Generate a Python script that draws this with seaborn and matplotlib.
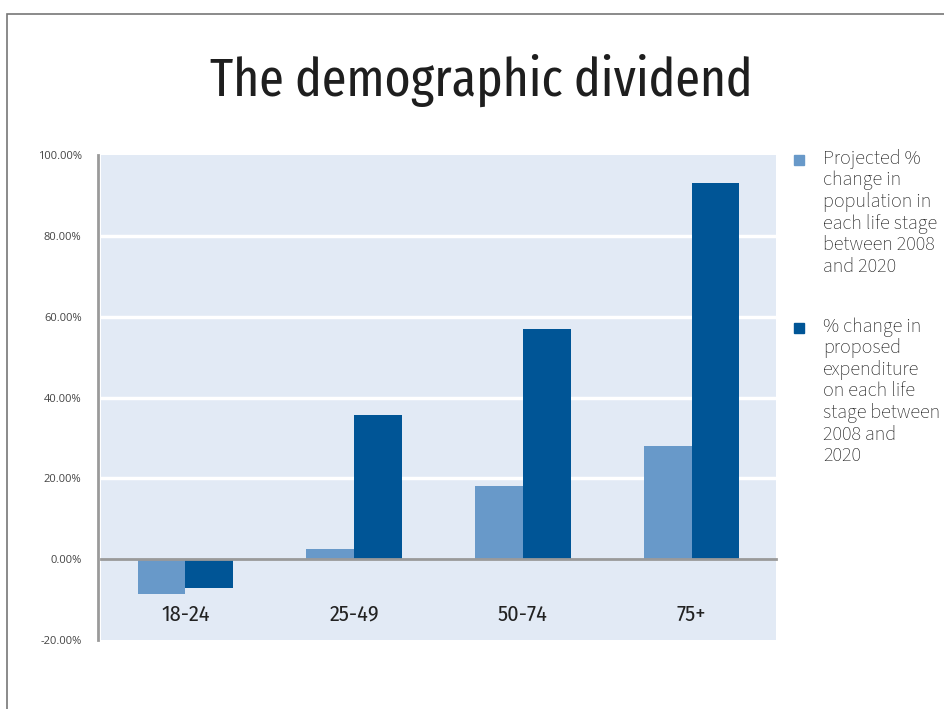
import matplotlib
matplotlib.use("Agg")
import matplotlib.pyplot as plt
import matplotlib.ticker as mticker
from matplotlib.patches import Rectangle
import seaborn as sns
import pandas as pd

# Life stages and the two projected changes (percent, 2008 -> 2020)
stages = ["18-24", "25-49", "50-74", "75+"]
population_change = [-8.5, 2.5, 18.1, 28.0]
expenditure_change = [-7.1, 35.6, 56.9, 93.1]
series_labels = [
    "Projected %\nchange in\npopulation in\neach life stage\nbetween 2008\nand 2020",
    "% change in\nproposed\nexpenditure\non each life\nstage between\n2008 and\n2020",
]
y_ticks = [-20, 0, 20, 40, 60, 80, 100]

light_blue = "#6899c9"
dark_blue = "#005596"
panel_bg = "#e2eaf5"
axis_grey = "#9a9a9a"

df = pd.DataFrame({
    "stage": stages * 2,
    "value": population_change + expenditure_change,
    "series": ["population"] * len(stages) + ["expenditure"] * len(stages),
})

sns.set_theme(style="white")
plt.rcParams["font.family"] = ["Open Sans", "DejaVu Sans"]
cond = ["Fira Sans Extra Condensed", "DejaVu Sans"]
semi = ["Fira Sans Condensed", "DejaVu Sans"]

W, H = 944, 709
fig = plt.figure(figsize=(W / 100, H / 100), dpi=100)
ax = fig.add_axes([101 / W, 1 - 640 / H, (776 - 101) / W, (640 - 155) / H])
ax.set_facecolor(panel_bg)

sns.barplot(data=df, x="stage", y="value", hue="series",
            palette=[light_blue, dark_blue], width=0.566, gap=0,
            saturation=1, linewidth=0, legend=False, ax=ax, zorder=3)

ax.set_xlim(-0.5, 3.5)
ax.set_ylim(-20, 100)
ax.set_xlabel("")
ax.set_ylabel("")

# white horizontal gridlines
ax.yaxis.set_major_locator(mticker.FixedLocator(y_ticks))
ax.yaxis.set_major_formatter(mticker.FuncFormatter(lambda v, p: f"{v:.2f}%"))
for v in y_ticks:
    if 0 < v < 100:
        ax.axhline(v, color="white", lw=2.5, zorder=1)

for s in ["top", "right"]:
    ax.spines[s].set_visible(False)
ax.spines["left"].set_color(axis_grey)
ax.spines["left"].set_linewidth(2)
ax.spines["left"].set_position(("outward", 2))
ax.spines["bottom"].set_position(("data", 0))
ax.spines["bottom"].set_color(axis_grey)
ax.spines["bottom"].set_linewidth(2)
ax.spines["bottom"].set_zorder(4)

ax.tick_params(axis="y", which="major", direction="out", length=7, width=2,
               color=axis_grey, labelsize=8, labelcolor="#444444", pad=5)

# category boundaries carry the ticks, centres carry the labels
ax.xaxis.set_major_locator(mticker.FixedLocator([-0.5, 0.5, 1.5, 2.5, 3.5]))
ax.xaxis.set_major_formatter(mticker.NullFormatter())
ax.xaxis.set_minor_locator(mticker.FixedLocator(range(len(stages))))
ax.xaxis.set_minor_formatter(mticker.FixedFormatter(stages))
ax.tick_params(axis="x", which="major", direction="out", length=9, width=2,
               color=axis_grey)
ax.tick_params(axis="x", which="minor", length=0, pad=32, labelsize=16,
               labelcolor="#222222")
for lab in ax.get_xticklabels(minor=True):
    lab.set_family(semi)
    lab.set_fontweight("normal")

fig.text(481 / W, 1 - 80 / H, "The demographic dividend", ha="center",
         va="center", fontsize=39, color="#1e1e1e", family=cond,
         fontweight="normal")

# legend drawn beside the panel
for lbl, col, top in zip(series_labels, [light_blue, dark_blue], [149, 317]):
    fig.patches.append(Rectangle((794 / W, 1 - (top + 16) / H), 10 / W, 10 / H,
                                 transform=fig.transFigure, color=col))
    fig.text(823 / W, 1 - top / H, lbl, ha="left", va="top", fontsize=14.5,
             color="#222222", linespacing=1.1,
             family=["Source Sans 3", "DejaVu Sans"])

# page frame
fig.patches.append(Rectangle((7 / W, -0.1), 1.2, 1 - 14 / H + 0.1,
                             transform=fig.transFigure, fill=False,
                             edgecolor="#777777", lw=1.2))

fig.savefig("out.png", dpi=100)
